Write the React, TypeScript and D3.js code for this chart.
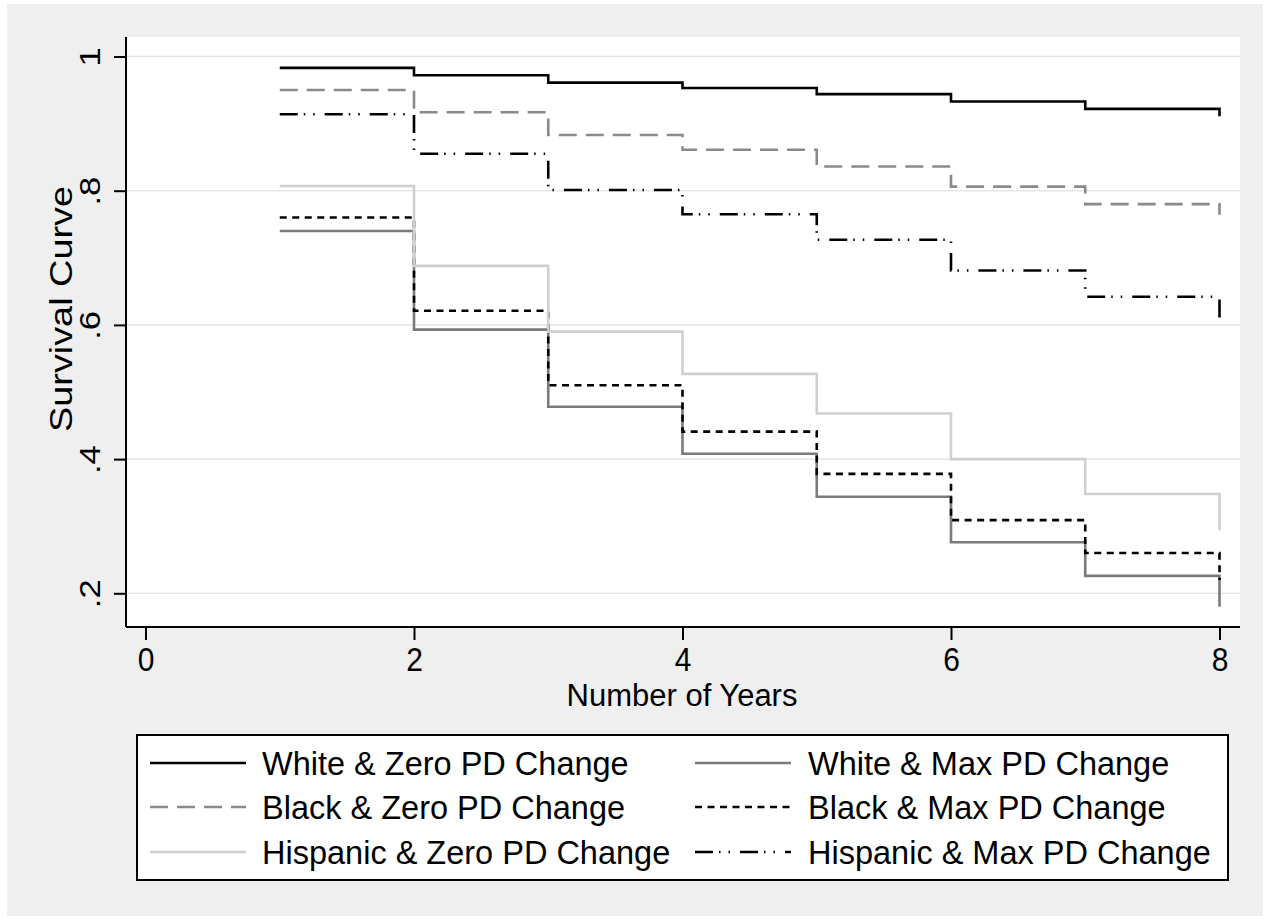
import React, {useEffect, useRef} from 'react';
import * as d3 from 'd3';

const years = [1, 2, 3, 4, 5, 6, 7, 8];
const whiteZero = [0.983, 0.972, 0.961, 0.953, 0.944, 0.933, 0.922, 0.911];
const blackZero = [0.950, 0.917, 0.883, 0.861, 0.836, 0.806, 0.780, 0.764];
const hispanicZero = [0.807, 0.688, 0.590, 0.527, 0.468, 0.400, 0.348, 0.294];
const whiteMax = [0.740, 0.593, 0.478, 0.408, 0.344, 0.276, 0.226, 0.180];
const blackMax = [0.760, 0.621, 0.510, 0.441, 0.378, 0.309, 0.260, 0.220];
const hispanicMax = [0.914, 0.855, 0.801, 0.765, 0.727, 0.681, 0.642, 0.610];

const xTicks = [0, 2, 4, 6, 8];
const yTicks = [0.2, 0.4, 0.6, 0.8, 1];
const yTickLabels = ['.2', '.4', '.6', '.8', '1'];

const series = [
  {name: 'White & Zero PD Change', values: whiteZero, color: '#000000', dash: null},
  {name: 'White & Max PD Change', values: whiteMax, color: '#7a7a7a', dash: null},
  {name: 'Black & Zero PD Change', values: blackZero, color: '#8a8a8a', dash: '18,9'},
  {name: 'Black & Max PD Change', values: blackMax, color: '#000000', dash: '7,5.5'},
  {name: 'Hispanic & Zero PD Change', values: hispanicZero, color: '#cfcfcf', dash: null},
  {name: 'Hispanic & Max PD Change', values: hispanicMax, color: '#000000', dash: '18,6,1.5,8,1.5,10'},
];

const FONT = '"Liberation Sans", Arial, Helvetica, sans-serif';

export default function App() {
  const ref = useRef(null);

  useEffect(() => {
    const width = 1270;
    const height = 920;
    const svg = d3.select(ref.current).attr('width', width).attr('height', height);
    svg.selectAll('*').remove();

    // backgrounds
    svg.append('rect').attr('width', width).attr('height', height).attr('fill', '#ffffff');
    svg.append('rect').attr('x', 7).attr('y', 4).attr('width', 1256).attr('height', 912).attr('fill', '#efefef');

    const plot = {left: 126, right: 1240, top: 37, bottom: 627};
    svg.append('rect').attr('x', plot.left).attr('y', plot.top)
      .attr('width', plot.right - plot.left).attr('height', plot.bottom - plot.top).attr('fill', '#ffffff');

    const x = d3.scaleLinear().domain([0, 8]).range([145.5, 1219.5]);
    const y = d3.scaleLinear().domain([0.2, 1]).range([593.3, 56.5]);

    // gridlines
    svg.append('g').selectAll('line').data(yTicks).join('line')
      .attr('x1', plot.left).attr('x2', plot.right)
      .attr('y1', d => y(d)).attr('y2', d => y(d))
      .attr('stroke', '#e6e6e6').attr('stroke-width', 1.6);

    // curves
    const line = d3.line().x(d => x(d[0])).y(d => y(d[1])).curve(d3.curveStepAfter);
    svg.append('g').selectAll('path').data(series).join('path')
      .attr('d', s => line(years.map((t, i) => [t, s.values[i]])))
      .attr('fill', 'none')
      .attr('stroke', s => s.color)
      .attr('stroke-width', 2.6)
      .attr('stroke-dasharray', s => s.dash);

    // axes
    const xAxis = svg.append('g').attr('transform', `translate(0, ${plot.bottom})`)
      .call(d3.axisBottom(x).tickValues(xTicks).tickSize(13).tickSizeOuter(0).tickPadding(8));
    xAxis.select('.domain').attr('d', `M${plot.left},0H${plot.right}`).attr('stroke-width', 2);
    xAxis.selectAll('.tick line').attr('stroke-width', 2);
    xAxis.selectAll('.tick text').attr('y', null).attr('dy', null)
      .attr('transform', 'translate(0, 43.5) scale(1, 1.1)')
      .attr('font-size', 30).attr('font-family', FONT).attr('fill', '#000');

    const yAxis = svg.append('g').attr('transform', `translate(${plot.left}, 0)`)
      .call(d3.axisLeft(y).tickValues(yTicks).tickFormat((d, i) => yTickLabels[i]).tickSize(12).tickSizeOuter(0));
    yAxis.select('.domain').attr('d', `M0,${plot.top}V${plot.bottom}`).attr('stroke-width', 2);
    yAxis.selectAll('.tick line').attr('stroke-width', 2);
    yAxis.selectAll('.tick text')
      .attr('x', null).attr('dy', null)
      .attr('transform', 'translate(-26, 0) rotate(-90) scale(1.15, 1)')
      .attr('text-anchor', 'middle')
      .attr('font-size', 30).attr('font-family', FONT).attr('fill', '#000');

    // axis titles
    svg.append('text').attr('transform', 'translate(72, 432) rotate(-90)')
      .attr('text-anchor', 'start').attr('font-size', 32).attr('font-family', FONT)
      .attr('textLength', 246).attr('lengthAdjust', 'spacingAndGlyphs').text('Survival Curve');
    svg.append('text').attr('x', 682).attr('y', 706)
      .attr('text-anchor', 'middle').attr('font-size', 31).attr('font-family', FONT).text('Number of Years');

    // legend
    const legend = svg.append('g');
    legend.append('rect').attr('x', 137).attr('y', 735).attr('width', 1091).attr('height', 145)
      .attr('fill', '#ffffff').attr('stroke', '#000').attr('stroke-width', 2);
    const colX = [150, 695];
    const rowY = [763, 807, 852];
    const items = legend.selectAll('g.item').data(series).join('g').attr('class', 'item')
      .attr('transform', (d, i) => `translate(${colX[i % 2]}, ${rowY[Math.floor(i / 2)]})`);
    items.append('line').attr('x1', 0).attr('x2', 96).attr('y1', 0).attr('y2', 0)
      .attr('stroke', s => s.color).attr('stroke-width', 2.6).attr('stroke-dasharray', s => s.dash);
    items.append('text').attr('x', (d, i) => (i % 2 === 0 ? 112 : 113)).attr('y', 0).attr('dy', '0.36em')
      .attr('font-size', 32.5).attr('font-family', FONT).text(s => s.name);
  }, []);

  return (
    <div style={{position: 'absolute', left: 0, top: 0}}>
      <svg ref={ref} style={{display: 'block'}}></svg>
    </div>
  );
}
